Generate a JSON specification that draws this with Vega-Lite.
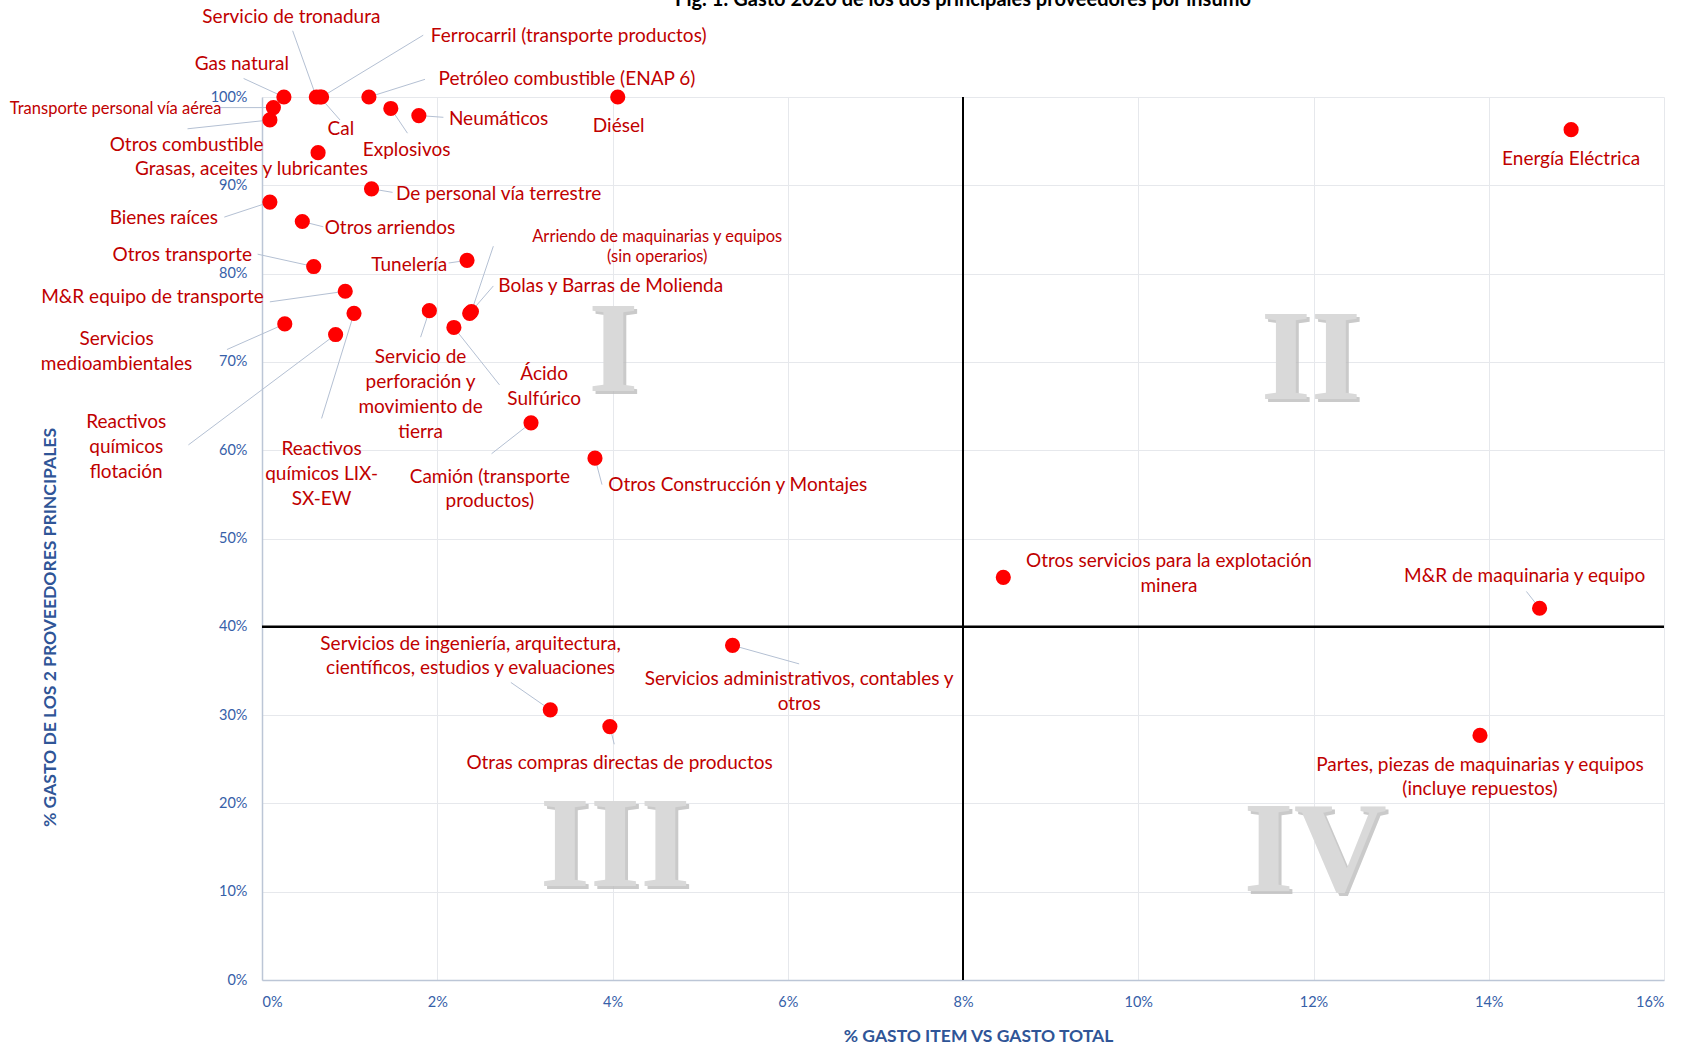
{
  "$schema": "https://vega.github.io/schema/vega-lite/v6.json",
  "width": 1402,
  "height": 883,
  "autosize": "none",
  "padding": {"left": 262, "top": 97, "right": 30, "bottom": 67},
  "background": "white",
  "title": {
    "text": "Fig. 1: Gasto 2020 de los dos principales proveedores por insumo",
    "font": "Lato",
    "fontSize": 20,
    "fontWeight": "bold",
    "color": "#000000",
    "anchor": "middle",
    "frame": "group",
    "offset": -2
  },
  "datasets": {
    "insumos": [
      {"insumo": "Servicio de tronadura", "x": 0.0062, "y": 1.0, "lx": 0.00335, "ly": 1.091, "kx": 0.0035, "ky": 1.075},
      {"insumo": "Ferrocarril (transporte productos)", "x": 0.0068, "y": 1.0, "lx": 0.035, "ly": 1.069, "kx": 0.0184, "ky": 1.07},
      {"insumo": "Gas natural", "x": 0.0025, "y": 1.0, "lx": -0.0023, "ly": 1.037, "kx": -0.0021, "ky": 1.021},
      {"insumo": "Cal", "x": 0.0066, "y": 1.0, "lx": 0.009, "ly": 0.964, "kx": 0.0089, "ky": 0.974},
      {"insumo": "Petróleo combustible (ENAP 6)", "x": 0.0122, "y": 1.0, "lx": 0.0348, "ly": 1.02, "kx": 0.0186, "ky": 1.02},
      {"insumo": "Explosivos", "x": 0.0147, "y": 0.987, "lx": 0.0165, "ly": 0.94, "kx": 0.0166, "ky": 0.959},
      {"insumo": "Neumáticos", "x": 0.0179, "y": 0.979, "lx": 0.027, "ly": 0.975, "kx": 0.0207, "ky": 0.977},
      {"insumo": "Diésel", "x": 0.0406, "y": 1.0, "lx": 0.0407, "ly": 0.967, "kx": null, "ky": null},
      {"insumo": "Transporte personal vía aérea", "x": 0.0013, "y": 0.988, "lx": -0.0167, "ly": 0.986, "kx": -0.0049, "ky": 0.988},
      {"insumo": "Otros combustible", "x": 0.0009, "y": 0.974, "lx": -0.0086, "ly": 0.946, "kx": -0.0085, "ky": 0.964},
      {"insumo": "Grasas, aceites y lubricantes", "x": 0.0064, "y": 0.937, "lx": -0.0012, "ly": 0.918, "kx": null, "ky": null},
      {"insumo": "De personal vía terrestre", "x": 0.0125, "y": 0.896, "lx": 0.027, "ly": 0.89, "kx": 0.0149, "ky": 0.892},
      {"insumo": "Bienes raíces", "x": 0.0009, "y": 0.881, "lx": -0.0112, "ly": 0.863, "kx": -0.0043, "ky": 0.864},
      {"insumo": "Otros arriendos", "x": 0.0046, "y": 0.859, "lx": 0.0146, "ly": 0.852, "kx": 0.007, "ky": 0.853},
      {"insumo": "Otros transporte", "x": 0.0059, "y": 0.808, "lx": -0.0091, "ly": 0.821, "kx": -0.0005, "ky": 0.822},
      {"insumo": "Tunelería", "x": 0.0234, "y": 0.815, "lx": 0.0168, "ly": 0.81, "kx": 0.0213, "ky": 0.812},
      {"insumo": "Arriendo de maquinarias y equipos\n(sin operarios)", "x": 0.0239, "y": 0.757, "lx": 0.0451, "ly": 0.842, "kx": 0.0264, "ky": 0.831},
      {"insumo": "Bolas y Barras de Molienda", "x": 0.0237, "y": 0.755, "lx": 0.0398, "ly": 0.786, "kx": 0.0264, "ky": 0.786},
      {"insumo": "M&R equipo de transporte", "x": 0.0095, "y": 0.78, "lx": -0.0125, "ly": 0.773, "kx": 0.0009, "ky": 0.768},
      {"insumo": "Servicios\nmedioambientales", "x": 0.0026, "y": 0.743, "lx": -0.0166, "ly": 0.726, "kx": -0.004, "ky": 0.714},
      {"insumo": "Reactivos\nquímicos\nflotación", "x": 0.0084, "y": 0.731, "lx": -0.0155, "ly": 0.632, "kx": -0.0084, "ky": 0.606},
      {"insumo": "Reactivos\nquímicos LIX-\nSX-EW", "x": 0.0105, "y": 0.755, "lx": 0.0068, "ly": 0.601, "kx": 0.0068, "ky": 0.636},
      {"insumo": "Servicio de\nperforación y\nmovimiento de\ntierra", "x": 0.0191, "y": 0.758, "lx": 0.0181, "ly": 0.705, "kx": 0.0181, "ky": 0.728},
      {"insumo": "Ácido\nSulfúrico", "x": 0.0219, "y": 0.739, "lx": 0.0322, "ly": 0.686, "kx": 0.0271, "ky": 0.674},
      {"insumo": "Camión (transporte\nproductos)", "x": 0.0307, "y": 0.631, "lx": 0.026, "ly": 0.57, "kx": 0.0262, "ky": 0.596},
      {"insumo": "Otros Construcción y Montajes", "x": 0.038, "y": 0.591, "lx": 0.0543, "ly": 0.561, "kx": 0.0388, "ky": 0.561},
      {"insumo": "Otros servicios para la explotación\nminera", "x": 0.0846, "y": 0.456, "lx": 0.1035, "ly": 0.474, "kx": null, "ky": null},
      {"insumo": "M&R de maquinaria y equipo", "x": 0.1458, "y": 0.421, "lx": 0.1441, "ly": 0.457, "kx": 0.1443, "ky": 0.44},
      {"insumo": "Servicios de ingeniería, arquitectura,\ncientíficos, estudios y evaluaciones", "x": 0.0329, "y": 0.306, "lx": 0.0238, "ly": 0.381, "kx": 0.0284, "ky": 0.337},
      {"insumo": "Servicios administrativos, contables y\notros", "x": 0.0537, "y": 0.379, "lx": 0.0613, "ly": 0.341, "kx": 0.0613, "ky": 0.358},
      {"insumo": "Otras compras directas de productos", "x": 0.0397, "y": 0.287, "lx": 0.0408, "ly": 0.246, "kx": 0.0402, "ky": 0.267},
      {"insumo": "Partes, piezas de maquinarias y equipos\n(incluye repuestos)", "x": 0.139, "y": 0.277, "lx": 0.139, "ly": 0.244, "kx": null, "ky": null},
      {"insumo": "Energía Eléctrica", "x": 0.1494, "y": 0.963, "lx": 0.1494, "ly": 0.93, "kx": null, "ky": null}
    ],
    "cuadrantes": [
      {"q": "I", "x": 0.0401, "y": 0.711},
      {"q": "II", "x": 0.1197, "y": 0.702},
      {"q": "III", "x": 0.0403, "y": 0.151},
      {"q": "IV", "x": 0.1202, "y": 0.145}
    ],
    "cortes": [{"x": 0.08, "y": 0.4}]
  },
  "config": {
    "view": {"stroke": null},
    "axis": {
      "labelFont": "Lato",
      "labelFontSize": 14.5,
      "labelColor": "#3660A8",
      "titleFont": "Lato",
      "titleFontSize": 17.5,
      "titleFontWeight": "bold",
      "titleColor": "#2F5597",
      "gridColor": "#E6E8EC",
      "gridWidth": 1,
      "domainColor": "#BCC6D6",
      "domainWidth": 1.5,
      "ticks": false,
      "labelPadding": 15
    }
  },
  "layer": [
    {
      "data": {"name": "cuadrantes"},
      "mark": {"type": "text", "font": "Liberation Serif", "fontWeight": "bold", "fontSize": 129, "align": "center", "baseline": "middle", "color": "#BDBDBD", "opacity": 0.8, "dx": 3, "dy": 3},
      "encoding": {
        "x": {"field": "x", "type": "quantitative", "scale": {"domain": [0, 0.16], "nice": false}, "axis": {"values": [0, 0.02, 0.04, 0.06, 0.08, 0.1, 0.12, 0.14, 0.16], "format": ".0%", "title": "% GASTO ITEM VS GASTO TOTAL", "titleX": 716, "titleY": 56, "titleBaseline": "middle", "titleAlign": "center"}},
        "y": {"field": "y", "type": "quantitative", "scale": {"domain": [0, 1], "nice": false}, "axis": {"values": [0, 0.1, 0.2, 0.3, 0.4, 0.5, 0.6, 0.7, 0.8, 0.9, 1], "format": ".0%", "title": "% GASTO DE LOS 2 PROVEEDORES PRINCIPALES", "titleX": -212, "titleY": 530, "titleBaseline": "middle", "titleAlign": "center"}},
        "text": {"field": "q"}
      }
    },
    {
      "data": {"name": "cuadrantes"},
      "mark": {"type": "text", "font": "Liberation Serif", "fontWeight": "bold", "fontSize": 129, "align": "center", "baseline": "middle", "color": "#D9D9D9"},
      "encoding": {
        "x": {"field": "x", "type": "quantitative", "scale": {"domain": [0, 0.16], "nice": false}},
        "y": {"field": "y", "type": "quantitative", "scale": {"domain": [0, 1], "nice": false}},
        "text": {"field": "q"}
      }
    },
    {
      "data": {"name": "cortes"},
      "mark": {"type": "rule", "color": "#000000", "strokeWidth": 2},
      "encoding": {
        "x": {"field": "x", "type": "quantitative", "scale": {"domain": [0, 0.16], "nice": false}}
      }
    },
    {
      "data": {"name": "cortes"},
      "mark": {"type": "rule", "color": "#000000", "strokeWidth": 2.5},
      "encoding": {
        "y": {"field": "y", "type": "quantitative", "scale": {"domain": [0, 1], "nice": false}}
      }
    },
    {
      "data": {"name": "insumos"},
      "transform": [{"filter": "datum.kx != null"}],
      "mark": {"type": "rule", "color": "#B4C0D3", "strokeWidth": 1},
      "encoding": {
        "x": {"field": "kx", "type": "quantitative", "scale": {"domain": [0, 0.16], "nice": false}},
        "y": {"field": "ky", "type": "quantitative", "scale": {"domain": [0, 1], "nice": false}},
        "x2": {"field": "x"},
        "y2": {"field": "y"}
      }
    },
    {
      "data": {"name": "insumos"},
      "mark": {"type": "circle", "size": 230, "color": "#FF0000", "opacity": 1},
      "encoding": {
        "x": {"field": "x", "type": "quantitative", "scale": {"domain": [0, 0.16], "nice": false}},
        "y": {"field": "y", "type": "quantitative", "scale": {"domain": [0, 1], "nice": false}}
      }
    },
    {
      "data": {"name": "insumos"},
      "transform": [{"filter": "indexof(['Transporte personal vía aérea', 'Arriendo de maquinarias y equipos\\n(sin operarios)'], datum.insumo) < 0"}],
      "mark": {"type": "text", "font": "Lato", "fontSize": 19, "color": "#C00000", "align": "center", "baseline": "middle", "lineBreak": "\n", "lineHeight": 24.8},
      "encoding": {
        "x": {"field": "lx", "type": "quantitative", "scale": {"domain": [0, 0.16], "nice": false}},
        "y": {"field": "ly", "type": "quantitative", "scale": {"domain": [0, 1], "nice": false}},
        "text": {"field": "insumo"}
      }
    },
    {
      "data": {"name": "insumos"},
      "transform": [{"filter": "indexof(['Transporte personal vía aérea', 'Arriendo de maquinarias y equipos\\n(sin operarios)'], datum.insumo) >= 0"}],
      "mark": {"type": "text", "font": "Lato", "fontSize": 16.5, "color": "#C00000", "align": "center", "baseline": "middle", "lineBreak": "\n", "lineHeight": 20.5},
      "encoding": {
        "x": {"field": "lx", "type": "quantitative", "scale": {"domain": [0, 0.16], "nice": false}},
        "y": {"field": "ly", "type": "quantitative", "scale": {"domain": [0, 1], "nice": false}},
        "text": {"field": "insumo"}
      }
    }
  ]
}
